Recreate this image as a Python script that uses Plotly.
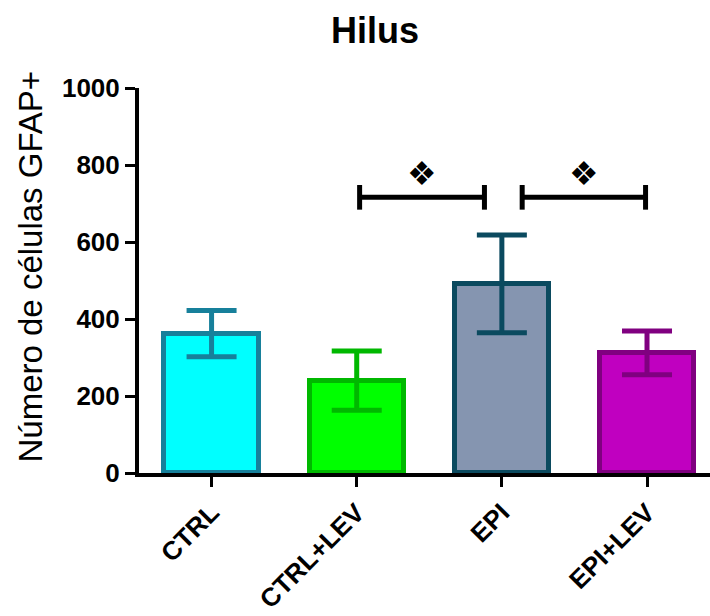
import plotly.graph_objects as go

# Group labels, means and SEM
categories = ["CTRL", "CTRL+LEV", "EPI", "EPI+LEV"]
means = [362, 240, 491, 312]
sems = [60, 77, 127, 57]

fill_colors = ["#00FFFF", "#00FF00", "#8595B0", "#C000C0"]
line_colors = ["#17809B", "#00B800", "#0B4A5F", "#800080"]

# Significance brackets (x start, x end in category units, height)
sig_x0 = [1.02, 2.14]
sig_x1 = [1.88, 2.99]
sig_y = [716, 716]
sig_mark = ["❖", "❖"]
sig_mark_y = [778, 778]

y_ticks = [0, 200, 400, 600, 800, 1000]

FONT = "Liberation Sans, Arial, sans-serif"

fig = go.Figure()

xs = list(range(len(categories)))
for i, cat in enumerate(categories):
    fig.add_trace(go.Bar(
        x=[xs[i]], y=[means[i]],
        width=0.65,
        marker=dict(color=fill_colors[i], line=dict(color=line_colors[i], width=5)),
        error_y=dict(type="data", array=[sems[i]], visible=True,
                     color=line_colors[i], thickness=5, width=25),
        showlegend=False, hoverinfo="skip",
    ))

# Bracket lines with end ticks
tick_half = 32
for x0, x1, y in zip(sig_x0, sig_x1, sig_y):
    fig.add_trace(go.Scatter(
        x=[x0, x0, None, x0, x1, None, x1, x1],
        y=[y - tick_half, y + tick_half, None, y, y, None, y - tick_half, y + tick_half],
        mode="lines", line=dict(color="black", width=5),
        showlegend=False, hoverinfo="skip", cliponaxis=False,
    ))

for x0, x1, m, my in zip(sig_x0, sig_x1, sig_mark, sig_mark_y):
    fig.add_annotation(x=(x0 + x1) / 2, y=my, xref="x", yref="y", text=m,
                       showarrow=False, font=dict(size=33, color="black",
                                                  family="DejaVu Sans"))

# Y-axis title
fig.add_annotation(text="Número de células GFAP+", textangle=-90,
                   xref="paper", yref="paper", x=-0.19, y=0.535,
                   xanchor="center", yanchor="middle", showarrow=False,
                   font=dict(size=33, color="black", family=FONT))

fig.update_layout(
    width=710, height=616,
    margin=dict(l=139, r=0, t=88, b=143),
    plot_bgcolor="white", paper_bgcolor="white",
    title=dict(text="<b>Hilus</b>", x=375 / 710, xanchor="center",
               xref="container", yref="container", y=1 - 30 / 616, yanchor="middle",
               font=dict(size=36, color="black", family=FONT)),
    bargap=0,
    font=dict(family=FONT, color="black"),
)

fig.update_xaxes(
    range=[-0.50, 3.434], tickmode="array", tickvals=xs,
    ticktext=[f"<b>{c}</b>" for c in categories], tickangle=-45,
    tickfont=dict(size=26, color="black", family=FONT),
    showline=True, linecolor="black", linewidth=4,
    ticks="outside", ticklen=10, tickwidth=3, tickcolor="black",
    showgrid=False, zeroline=False, fixedrange=True, automargin=False,
)
fig.update_yaxes(
    range=[0, 1000], tickmode="array", tickvals=y_ticks,
    ticktext=[f"<b>{v}</b>" for v in y_ticks],
    tickfont=dict(size=26, color="black", family=FONT),
    showline=True, linecolor="black", linewidth=4,
    ticks="outside", ticklen=10, tickwidth=3, tickcolor="black",
    showgrid=False, zeroline=False, fixedrange=True, automargin=False,
)

fig.write_html("out.html")
